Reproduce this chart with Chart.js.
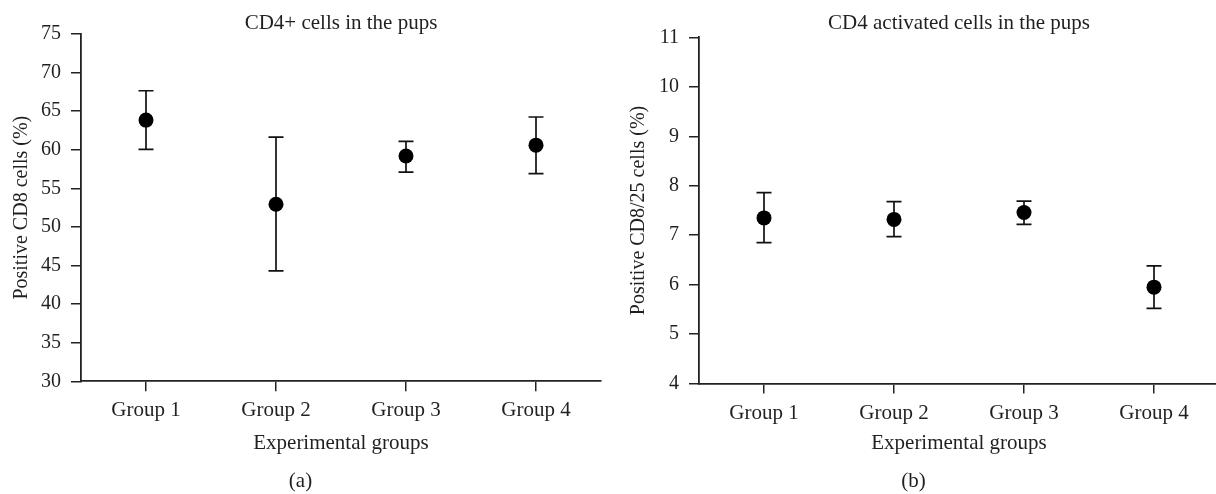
<!DOCTYPE html>
<html>
<head>
<meta charset="utf-8">
<script src="https://cdn.jsdelivr.net/npm/chart.js@4/dist/chart.umd.min.js"></script>
<style>
  html, body { margin: 0; padding: 0; background: #fff; overflow: hidden; width: 1216px; height: 494px; }
  #chartA { position: absolute; left: 0; top: 0; }
  #chartB { position: absolute; left: 608px; top: 0; }
</style>
</head>
<body>
<canvas id="chartA" width="608" height="494"></canvas>
<canvas id="chartB" width="611" height="494"></canvas>
<script>
// data
const groups = ['Group 1', 'Group 2', 'Group 3', 'Group 4'];

// (a) CD4+ cells
const cd4Mean  = [63.85, 52.95, 59.2, 60.6];
const cd4Upper = [67.65, 61.65, 61.1, 64.25];
const cd4Lower = [60.05, 44.3, 57.1, 56.9];
const cd4Ticks = [30, 75, 5]; // min, max, step

// (b) CD4 activated cells
const actMean  = [7.35, 7.32, 7.46, 5.95];
const actUpper = [7.86, 7.68, 7.69, 6.38];
const actLower = [6.85, 6.97, 7.22, 5.52];
const actTicks = [4, 11, 1];

const ink = '#231f20';
const serif = "'Liberation Serif', 'DejaVu Serif', serif";
Chart.defaults.font.family = serif;
Chart.defaults.font.size = 20;
Chart.defaults.color = ink;

/////////////////// error bars, drawn under the points

const errorBars = {
    id: 'errorBars',
    beforeDatasetsDraw(chart, args, opts) {
        const ctx = chart.ctx;
        const x = chart.scales.x;
        const y = chart.scales.y;
        ctx.save();
        ctx.strokeStyle = '#111';
        ctx.lineWidth = 1.7;
        opts.upper.forEach(function(up, i) {
            const px = x.getPixelForValue(i);
            const yTop = y.getPixelForValue(up);
            const yBot = y.getPixelForValue(opts.lower[i]);
            ctx.beginPath();
            ctx.moveTo(px, yTop); ctx.lineTo(px, yBot);
            ctx.moveTo(px - 7.5, yTop); ctx.lineTo(px + 7.5, yTop);
            ctx.moveTo(px - 7.5, yBot); ctx.lineTo(px + 7.5, yBot);
            ctx.stroke();
        });
        ctx.restore();
    }
};

function buildChart(id, means, upper, lower, ticks, title, yTitle, letter, geo) {
    return new Chart(document.getElementById(id), {
        type: 'line',
        data: {
            labels: groups,
            datasets: [{
                data: means,
                showLine: false,
                pointRadius: 7.5,
                pointHoverRadius: 7.5,
                pointBackgroundColor: '#000',
                pointBorderWidth: 0
            }]
        },
        plugins: [errorBars],
        options: {
            responsive: false,
            animation: false,
            events: [],
            layout: { autoPadding: false, padding: { left: 0, right: geo.right, top: 0, bottom: 0 } },
            plugins: {
                legend: { display: false },
                tooltip: { enabled: false },
                title: {
                    display: true, text: title, fullSize: false, color: ink,
                    font: { size: 21, weight: 'normal', lineHeight: 1.05 },
                    padding: { top: 12, bottom: geo.titleGap }
                },
                subtitle: {
                    display: true, text: letter, position: 'bottom', color: ink,
                    font: { size: 21, weight: 'normal', lineHeight: 1.2 },
                    padding: { top: 0, bottom: 0 }
                },
                errorBars: { upper: upper, lower: lower }
            },
            scales: {
                x: {
                    offset: true,
                    grid: { display: true, drawOnChartArea: false, drawTicks: true, tickLength: 10, color: '#222', lineWidth: 1.5, offset: false },
                    border: { display: true, color: '#222', width: 1.8 },
                    ticks: { padding: 7, color: ink, font: { size: 21 } },
                    title: { display: true, text: 'Experimental groups', color: ink, font: { size: 21 }, padding: { top: 0, bottom: 13 } },
                    afterFit: function(scale) {
                        scale.height = geo.xHeight;
                        scale.paddingLeft = 0; scale.paddingRight = 0;
                    }
                },
                y: {
                    min: ticks[0], max: ticks[1],
                    grid: { display: true, drawOnChartArea: false, drawTicks: true, tickLength: 10, color: '#222', lineWidth: 1.5 },
                    border: { display: true, color: '#222', width: 1.8 },
                    ticks: { stepSize: ticks[2], padding: 10, color: ink, font: { size: 20 } },
                    title: { display: true, text: yTitle, color: ink, font: { size: 20 }, padding: { top: geo.yTitlePad, bottom: 0 } },
                    afterFit: function(scale) {
                        scale.width = geo.yWidth;
                        scale.paddingTop = 0; scale.paddingBottom = 0;
                    }
                }
            }
        }
    });
}

buildChart('chartA', cd4Mean, cd4Upper, cd4Lower, cd4Ticks,
    'CD4+ cells in the pups', 'Positive CD8 cells (%)', '(a)',
    { right: 7, yWidth: 81, titleGap: 0, xHeight: 87.5, yTitlePad: 10 });

buildChart('chartB', actMean, actUpper, actLower, actTicks,
    'CD4 activated cells in the pups', 'Positive CD8/25 cells (%)', '(b)',
    { right: 0, yWidth: 91, titleGap: 3.3, xHeight: 85.2, yTitlePad: 19 });
</script>
</body>
</html>
